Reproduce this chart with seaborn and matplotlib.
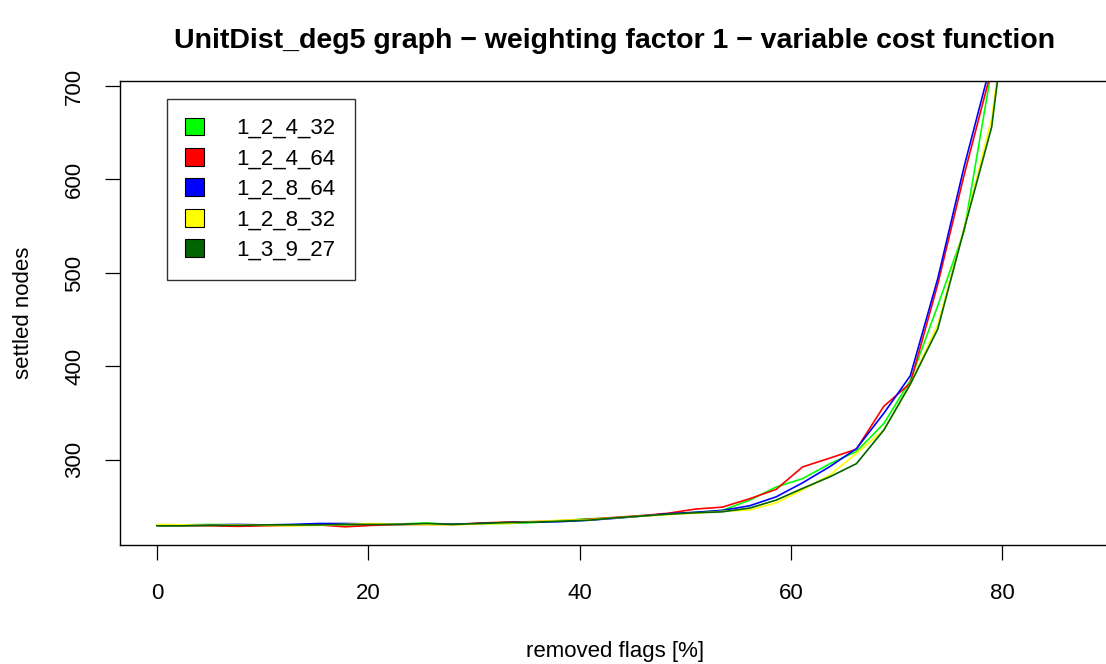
import pandas as pd
import seaborn as sns
import matplotlib.pyplot as plt
from matplotlib.patches import Patch

# removed flags [%]
removed = [0, 2.5, 5.1, 7.6, 10.2, 12.7, 15.3, 17.8, 20.4, 22.9, 25.5, 28.0,
           30.6, 33.1, 35.7, 38.2, 40.8, 43.3, 45.9, 48.4, 51.0, 53.5, 56.1,
           58.6, 61.1, 63.7, 66.2, 68.8, 71.3, 73.9, 76.4, 79.0, 81.5, 84.1, 86.6]

# settled nodes per configuration
s_1_2_4_32 = [230, 230.5, 231, 230.5, 230, 230.5, 231, 230.5, 231, 231.5, 232.5, 231,
              232, 232, 233, 235, 237, 238, 240, 242, 244, 246, 257, 271, 280, 296,
              309, 339, 385, 465, 545, 718, 900, 1150, 1500]
s_1_2_4_64 = [230, 230, 229.5, 229, 229.5, 230, 230.5, 228.5, 230, 231, 231, 231,
              232.5, 233.5, 234, 235, 236.5, 238.5, 240.5, 243, 247.5, 249.5, 258.5,
              268.5, 292.5, 302, 311.5, 357.5, 382, 488, 605, 718, 900, 1150, 1500]
s_1_2_8_64 = [230, 230, 230.5, 231, 230.5, 231, 232, 232, 231.5, 231, 231.5, 231,
              232, 233, 233.5, 234, 235.5, 237.5, 240, 242.5, 244, 246, 251, 260.5,
              275.5, 293, 312, 350, 390, 494, 614, 727, 900, 1150, 1500]
s_1_2_8_32 = [231, 230.5, 230, 230.5, 230, 229.5, 230, 231, 232, 231, 231, 230.5,
              231.5, 232, 234, 235.5, 236, 238, 240, 241.5, 243, 245, 246.5, 254,
              268, 284, 307, 332, 381, 445, 548, 665, 880, 1100, 1450]
s_1_3_9_27 = [229.5, 229.5, 230, 230, 230.5, 230.5, 230.5, 231, 231, 231, 232, 231,
              232, 233, 233.5, 234.5, 235.5, 238, 240, 242, 243.5, 244.5, 248.5, 257,
              269.5, 282, 296, 332, 381, 440, 547, 656, 880, 1100, 1450]

labels = ['1_2_4_32', '1_2_4_64', '1_2_8_64', '1_2_8_32', '1_3_9_27']
colors = ['#00FF00', '#FF0000', '#0000FF', '#FFFF00', '#006400']
series = [s_1_2_4_32, s_1_2_4_64, s_1_2_8_64, s_1_2_8_32, s_1_3_9_27]

rows = []
for lab, vals in zip(labels, series):
    for x, v in zip(removed, vals):
        rows.append({'removed': x, 'settled': v, 'config': lab})
data = pd.DataFrame(rows)

sns.set_style('ticks')
plt.rcParams['font.family'] = ['Liberation Sans', 'DejaVu Sans']
plt.rcParams['text.color'] = 'black'
plt.rcParams['axes.labelcolor'] = 'black'
plt.rcParams['xtick.color'] = 'black'
plt.rcParams['ytick.color'] = 'black'

fig = plt.figure(figsize=(11.06, 6.64), dpi=100)
ax = fig.add_axes([0.1085, 0.1792, 0.8951, 0.6988])

sns.lineplot(data=data, x='removed', y='settled', hue='config', hue_order=labels,
             palette=colors, linewidth=1.2, legend=False, ax=ax, sort=False)

ax.set_xlim(-3.5, 90.2)
ax.set_ylim(209, 705.3)
ax.set_xticks([0, 20, 40, 60, 80])
ax.set_yticks([300, 400, 500, 600, 700])
ax.tick_params(axis='both', labelsize=16, length=11, width=0.9, pad=16)
ax.tick_params(axis='y', pad=14)
for lbl in ax.get_yticklabels():
    lbl.set_rotation(90)
    lbl.set_va('center')
for sp in ax.spines.values():
    sp.set_linewidth(1.0)
    sp.set_color('black')
ax.spines['right'].set_visible(False)

ax.set_xlabel('removed flags [%]', fontsize=16, labelpad=27)
ax.set_ylabel('settled nodes', fontsize=16, labelpad=22)
ax.set_title('UnitDist_deg5 graph \u2212 weighting factor 1 \u2212 variable cost function',
             fontsize=20.5, fontweight='bold', pad=24)

handles = [Patch(facecolor=c, edgecolor='black', linewidth=0.8) for c in colors]
leg = ax.legend(handles, labels, loc='upper left', bbox_to_anchor=(0.047, 0.962),
                fontsize=16, frameon=True, fancybox=False, edgecolor='black',
                handlelength=0.85, handleheight=0.85, handletextpad=1.45,
                borderpad=0.85, labelspacing=0.4, borderaxespad=0)
leg.get_frame().set_linewidth(1.0)

fig.savefig('out.png', dpi=100)
